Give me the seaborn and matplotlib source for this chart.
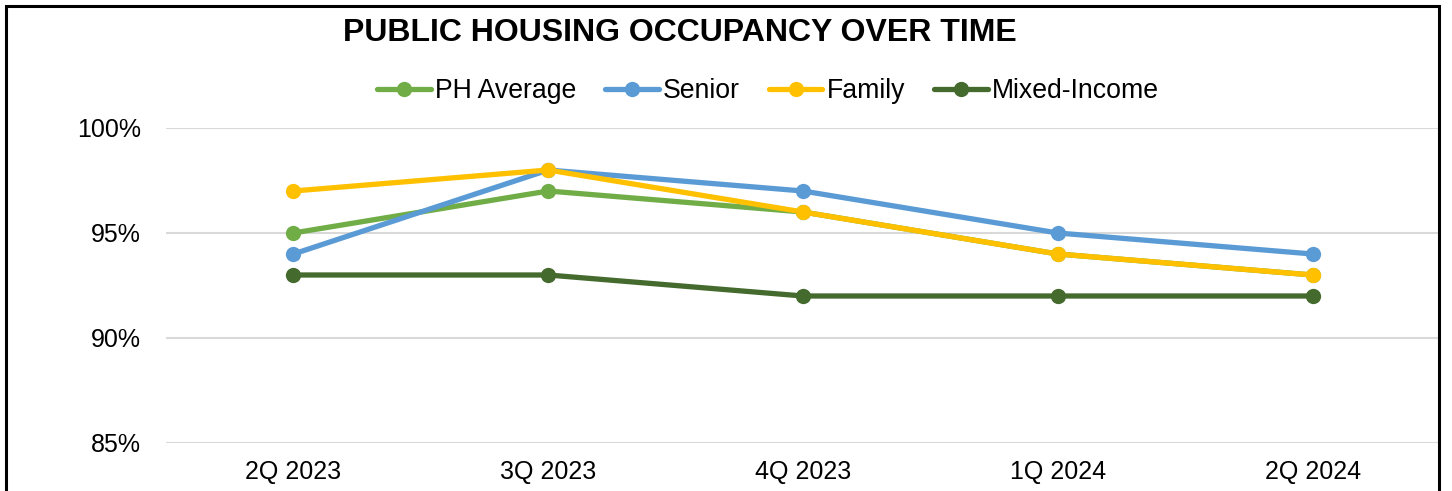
import matplotlib
matplotlib.use("Agg")
import matplotlib.pyplot as plt
from matplotlib.patches import Rectangle
from matplotlib.ticker import PercentFormatter
import pandas as pd
import seaborn as sns

# Chart data
quarters = ["2Q 2023", "3Q 2023", "4Q 2023", "1Q 2024", "2Q 2024"]
ph_average = [0.95, 0.97, 0.96, 0.94, 0.93]
senior = [0.94, 0.98, 0.97, 0.95, 0.94]
family = [0.97, 0.98, 0.96, 0.94, 0.93]
mixed_income = [0.93, 0.93, 0.92, 0.92, 0.92]
series_names = ["PH Average", "Senior", "Family", "Mixed-Income"]
y_ticks = [0.85, 0.90, 0.95, 1.00]

colors = ["#70AD47", "#5B9BD5", "#FFC000", "#446A2D"]

sns.set_theme(style="white")
plt.rcParams["font.family"] = ["Liberation Sans", "DejaVu Sans"]

df = pd.DataFrame({
    "Quarter": quarters * 4,
    "Occupancy": ph_average + senior + family + mixed_income,
    "Series": [s for s in series_names for _ in quarters],
})

fig = plt.figure(figsize=(14.52, 4.91), dpi=100)
ax = fig.add_axes([166 / 1452, 1 - 443 / 491, 1274 / 1452, 315 / 491])

for name, col in zip(series_names, colors):
    sub = df[df["Series"] == name]
    sns.lineplot(data=sub, x="Quarter", y="Occupancy", ax=ax, color=col,
                 linewidth=3.8, marker="o", markersize=11, markeredgewidth=0,
                 sort=False, label=name)

ax.set_xlim(-0.5, 4.5)
ax.set_ylim(0.85, 1.0)
ax.set_yticks(y_ticks)
ax.yaxis.set_major_formatter(PercentFormatter(1.0, decimals=0))
ax.grid(axis="y", color="#D9D9D9", linewidth=1.5)
ax.grid(axis="x", visible=False)
ax.set_axisbelow(True)
for s in ax.spines.values():
    s.set_visible(False)
ax.tick_params(axis="y", length=0, pad=18, labelsize=18)
ax.tick_params(axis="x", length=0, pad=12, labelsize=18)
ax.set_xlabel("")
ax.set_ylabel("")
for lab in ax.get_xticklabels() + ax.get_yticklabels():
    lab.set_color("#000000")

ax.legend(loc="center", bbox_to_anchor=(768 / 1452, 1 - 91 / 491),
          bbox_transform=fig.transFigure, ncol=4, frameon=False,
          fontsize=19.2, handlelength=2.0, handletextpad=0.15,
          columnspacing=1.1, labelcolor="black")

fig.text(680 / 1452, 1 - 33 / 491, "PUBLIC HOUSING OCCUPANCY OVER TIME",
         ha="center", va="center", fontsize=23, fontweight="bold", color="black")

# chart border (bottom edge is cut off in the original)
fig.patches.append(Rectangle((6 / 1452, -0.05), 1433 / 1452, 1.05 - 6 / 491,
                             transform=fig.transFigure, fill=False,
                             edgecolor="black", linewidth=2.2))

fig.savefig("out.png", dpi=100)
